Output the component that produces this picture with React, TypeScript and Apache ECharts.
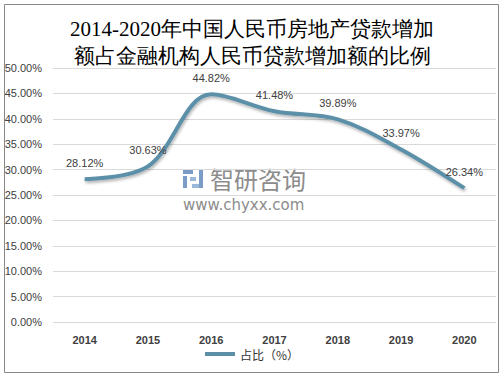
import React, { useEffect, useRef } from "react";
import * as echarts from "echarts";

const years = ["2014", "2015", "2016", "2017", "2018", "2019", "2020"];
const ratio = [28.12, 30.63, 44.82, 41.48, 39.89, 33.97, 26.34];
const titleLines = ["2014-2020年中国人民币房地产贷款增加", "额占金融机构人民币贷款增加额的比例"];
const seriesName = "占比（%）";

export default function App() {
  const ref = useRef<HTMLDivElement>(null);
  useEffect(() => {
    const chart = echarts.init(ref.current!, null, { renderer: "svg" });
    chart.setOption({
      animation: false,
      backgroundColor: "#ffffff",
      title: {
        text: titleLines.join("\n"),
        left: "center",
        top: 10,
        textStyle: {
          fontFamily: "serif",
          fontSize: 21,
          fontWeight: "normal",
          lineHeight: 27,
          color: "#000",
        },
      },
      grid: { left: 53, right: 8, top: 68, bottom: 57 },
      legend: {
        bottom: 14,
        left: "center",
        data: [seriesName],
        icon: "rect",
        itemWidth: 30,
        itemHeight: 4,
        itemGap: 4,
        itemStyle: { color: "#5b8fa8", opacity: 1 },
        textStyle: { fontSize: 12, color: "#333", fontFamily: "Noto Sans CJK SC" },
      },
      xAxis: {
        type: "category",
        data: years,
        axisLine: { show: false },
        axisTick: { show: false },
        axisLabel: { fontWeight: "bold", fontSize: 11, color: "#404040", margin: 12, fontFamily: "Liberation Sans" },
      },
      yAxis: {
        type: "value",
        min: 0,
        max: 50,
        interval: 5,
        axisLabel: {
          formatter: (v: number) => v.toFixed(2) + "%",
          fontSize: 11,
          color: "#404040",
          margin: 11,
          fontFamily: "Liberation Sans",
        },
        splitLine: { lineStyle: { color: "#d9d9d9" } },
      },
      series: [
        {
          name: seriesName,
          type: "line",
          data: ratio,
          smooth: 0.35,
          symbol: "circle",
          symbolSize: 1,
          showSymbol: true,
          lineStyle: {
            color: "#5b8fa8",
            width: 4,
            shadowColor: "rgba(0,0,0,0.3)",
            shadowBlur: 3,
            shadowOffsetX: 1,
            shadowOffsetY: 2,
          },
          itemStyle: { color: "rgba(0,0,0,0)" },
          label: {
            show: true,
            position: "top",
            distance: 10,
            formatter: (p: any) => p.value.toFixed(2) + "%",
            fontSize: 11,
            color: "#404040",
            fontFamily: "Liberation Sans",
          },
        },
      ],
      graphic: [
        {
          type: "rect",
          shape: { x: 4.5, y: 4.5, width: 494, height: 368 },
          style: { fill: "none", stroke: "#888", lineWidth: 1 },
          silent: true,
        },
        {
          type: "group",
          left: 183,
          top: 166,
          children: [
            { type: "rect", shape: { x: 0, y: 0, width: 10, height: 4 }, style: { fill: "#7a9cc6" } },
            { type: "rect", shape: { x: 0, y: 6, width: 4, height: 12 }, style: { fill: "#7a9cc6" } },
            { type: "rect", shape: { x: 7, y: 7, width: 6, height: 4 }, style: { fill: "#9bb7d9" } },
            { type: "rect", shape: { x: 16, y: 0, width: 4, height: 18 }, style: { fill: "#7a9cc6" } },
            { type: "rect", shape: { x: 9, y: 14, width: 7, height: 4 }, style: { fill: "#9bb7d9" } },
            {
              type: "text",
              x: 27,
              y: -4,
              style: { text: "智研咨询", fontSize: 24, fill: "#8c8c8c", fontFamily: "Noto Sans CJK SC", letterSpacing: 3 } as any,
            },
            {
              type: "text",
              x: 0,
              y: 27,
              style: { text: "www.chyxx.com", fontSize: 15, fill: "#8c8c8c", fontFamily: "DejaVu Sans", letterSpacing: 2 } as any,
            },
          ],
        },
      ],
    });
    return () => chart.dispose();
  }, []);
  return <div ref={ref} style={{ position: "absolute", left: 0, top: 0, width: 504, height: 379 }} />;
}
